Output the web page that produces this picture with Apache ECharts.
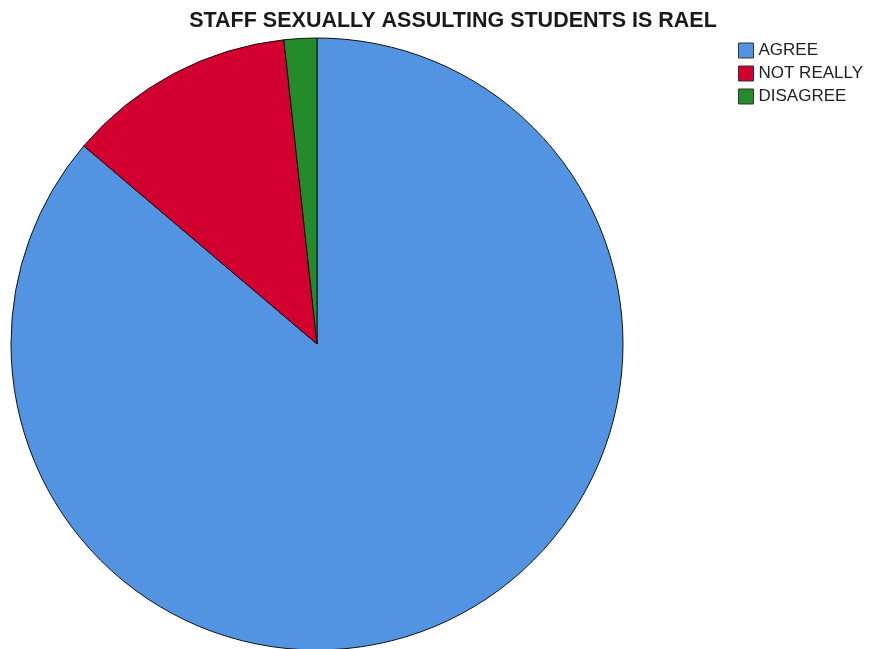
<!DOCTYPE html>
<html>
<head>
<meta charset="utf-8">
<script src="https://cdn.jsdelivr.net/npm/echarts@6/dist/echarts.min.js"></script>
<style>html,body{margin:0;padding:0;background:#fff}#c{width:869px;height:649px}</style>
</head>
<body>
<div id="c"></div>
<script>
const categories = ['AGREE', 'NOT REALLY', 'DISAGREE'];
const counts = [50, 7, 1];
const colors = ['#5294E2', '#D2002F', '#238B2A'];

const chart = echarts.init(document.getElementById('c'), null, {renderer: 'canvas'});
chart.setOption({
  animation: false,
  backgroundColor: '#ffffff',
  title: {
    text: 'STAFF SEXUALLY ASSULTING STUDENTS IS RAEL',
    left: 453, top: 10, textAlign: 'center', padding: 0,
    textStyle: {fontFamily: 'Liberation Sans, Arial', fontWeight: 'bold', fontSize: 21.5, color: '#1a1a1a'}
  },
  legend: {
    orient: 'vertical', left: 738, top: 42, padding: 0,
    itemWidth: 15, itemHeight: 15, itemGap: 6,
    icon: 'rect',
    data: categories,
    textStyle: {fontFamily: 'Liberation Sans, Arial', fontSize: 17, lineHeight: 15, color: '#222'},
    itemStyle: {borderColor: '#333', borderWidth: 1}
  },
  series: [{
    type: 'pie',
    center: [317, 344],
    radius: 306,
    startAngle: 90,
    clockwise: true,
    label: {show: false},
    labelLine: {show: false},
    emphasis: {disabled: true},
    itemStyle: {borderColor: '#111', borderWidth: 1},
    data: categories.map((c, i) => ({name: c, value: counts[i], itemStyle: {color: colors[i]}}))
  }]
});
</script>
</body>
</html>
